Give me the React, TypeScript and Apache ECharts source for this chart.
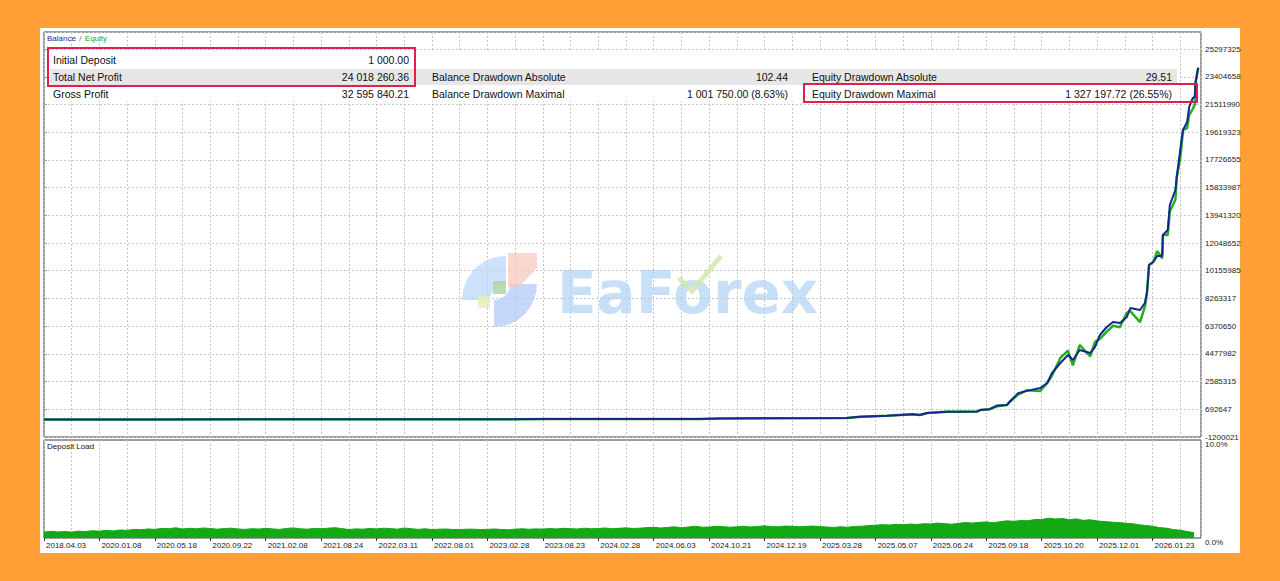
import React, { useEffect, useRef } from "react";
import * as echarts from "echarts";

// ---------- axis tick labels ----------
const xTickLabels = [
  "2018.04.03", "2020.01.08", "2020.05.18", "2020.09.22", "2021.02.08", "2021.08.24",
  "2022.03.11", "2022.08.01", "2023.02.28", "2023.08.23", "2024.02.28", "2024.06.03",
  "2024.10.21", "2024.12.19", "2025.03.28", "2025.05.07", "2025.06.24", "2025.09.18",
  "2025.10.20", "2025.12.01", "2026.01.23",
];
const yTickLabels = [
  "-1200021", "692647", "2585315", "4477982", "6370650", "8263317", "10155985",
  "12048652", "13941320", "15833987", "17726655", "19619323", "21511990", "23404658", "25297325",
];
const yMin = -1200021;
const yStep = 1892667.57;
const yMax = 26463208;
const dealMax = 1670;

// ---------- balance / equity (x = deal number) ----------
const deals = [
  0, 153, 297, 442, 586, 730, 875, 947, 976, 1159, 1178, 1217, 1254, 1264, 1275, 1303,
  1322, 1347, 1351, 1365, 1376, 1390, 1394, 1406, 1419, 1438, 1448, 1455, 1467, 1478,
  1485, 1495, 1510, 1517, 1524, 1534, 1543, 1553, 1563, 1568, 1582, 1589, 1592, 1595,
  1601, 1607, 1614, 1615, 1622, 1625, 1633, 1635, 1640, 1644, 1650, 1653, 1658, 1661,
  1662, 1666,
];
const balance = [
  1000, 2500, 5000, 8500, 14000, 21000, 30000, 36000, 62000, 98000, 186000, 255000, 350000,
  300000, 439000, 528000, 520000, 540000, 644000, 700000, 960000, 990000, 1211000, 1785000,
  1950000, 2147000, 2488000, 3171000, 3854000, 4401000, 4059000, 4742000, 4537000, 4947000,
  5767000, 6313000, 6655000, 6586000, 6996000, 7611000, 7474000, 7952000, 8635000, 10548000,
  10753000, 11163000, 11163000, 12597000, 12939000, 14646000, 15671000, 16559000, 18403000,
  19769000, 20315000, 21340000, 21954000, 22023000, 22979000, 24019260,
];
const equity = [
  1000, 2500, 5000, 8500, 14000, 21000, 30000, 36000, 62000, 98000, 186000, 255000, 350000,
  300000, 439000, 528000, 520000, 540000, 644000, 700000, 900000, 990000, 1211000, 1700000,
  2000000, 1950000, 2488000, 3000000, 4200000, 4700000, 3700000, 5083000, 4300000, 5300000,
  5500000, 6000000, 6400000, 6300000, 7300000, 7400000, 6650000, 7700000, 8635000, 10548000,
  10753000, 11500000, 11000000, 12597000, 12600000, 14200000, 15000000, 16559000, 17800000,
  19769000, 19900000, 20800000, 21200000, 21500000, 22979000, 24019260,
];

// ---------- deposit load (%), one value every 10 deals ----------
const loadStep = 10;
const depositLoad = [
  0.6, 0.68, 0.62, 0.66, 0.6, 0.7, 0.66, 0.74, 0.7, 0.78, 0.72, 0.82, 0.78, 0.88, 0.84, 0.92,
  0.88, 0.98, 0.95, 1.04, 0.92, 0.99, 0.94, 1.02, 0.97, 0.9, 0.96, 1.0, 0.92, 0.88, 0.95, 0.91,
  0.99, 0.93, 0.88, 0.97, 1.03, 0.94, 0.9, 0.98, 0.94, 1.0, 1.05, 0.96, 0.86, 0.93, 0.9, 0.97,
  0.93, 1.0, 0.96, 0.9, 1.02, 0.95, 0.88, 0.94, 0.86, 0.9, 0.92, 0.87, 0.85, 0.9, 0.9, 0.86,
  0.88, 0.92, 0.87, 0.84, 0.9, 0.94, 0.89, 0.93, 0.91, 0.96, 0.93, 0.99, 0.95, 0.92, 1.0, 0.94,
  0.97, 1.02, 0.95, 0.99, 1.04, 0.97, 1.0, 1.06, 1.1, 1.02, 1.08, 1.14, 1.05, 1.12, 1.2, 1.1,
  1.12, 1.18, 1.16, 1.1, 1.14, 1.2, 1.12, 1.18, 1.24, 1.16, 1.15, 1.22, 1.2, 1.14, 1.18, 1.22,
  1.16, 1.12, 1.08, 1.14, 1.1, 1.18, 1.2, 1.26, 1.3, 1.36, 1.32, 1.4, 1.36, 1.42, 1.38, 1.46,
  1.44, 1.52, 1.47, 1.4, 1.5, 1.58, 1.52, 1.6, 1.64, 1.56, 1.66, 1.75, 1.7, 1.78, 1.76, 1.88,
  1.9, 2.02, 1.94, 1.98, 1.88, 1.95, 1.8, 1.86, 1.74, 1.68, 1.62, 1.58, 1.52, 1.47, 1.36, 1.28,
  1.2, 1.06, 1.0, 0.86, 0.8, 0.66, 0.55,
];

// ---------- report table ----------
const col1Labels = ["Initial Deposit", "Total Net Profit", "Gross Profit"];
const col1Values = ["1 000.00", "24 018 260.36", "32 595 840.21"];
const col2Labels = ["Balance Drawdown Absolute", "Balance Drawdown Maximal"];
const col2Values = ["102.44", "1 001 750.00 (8.63%)"];
const col3Labels = ["Equity Drawdown Absolute", "Equity Drawdown Maximal"];
const col3Values = ["29.51", "1 327 197.72 (26.55%)"];

const FONT = "Liberation Sans";

export default function App() {
  const ref = useRef<HTMLDivElement>(null);

  useEffect(() => {
    if (!ref.current) return;
    const chart = echarts.init(ref.current, null, { renderer: "svg" });

    const rowY = [60, 77, 93.5];
    const txt = (text: string, x: number, y: number, align = "left") => ({
      type: "text",
      z: 21,
      style: {
        text, x, y, fill: "#111", fontSize: 10.5, fontFamily: FONT,
        align, verticalAlign: "middle",
      },
    });
    const tableEls: any[] = [
      { type: "rect", z: 20, shape: { x: 50, y: 52, width: 1130, height: 49 }, style: { fill: "#ffffff" } },
      { type: "rect", z: 20, shape: { x: 50, y: 69, width: 1127, height: 16 }, style: { fill: "#e6e6e6" } },
    ];
    col1Labels.forEach((l, i) => {
      tableEls.push(txt(l, 53, rowY[i]));
      tableEls.push(txt(col1Values[i], 409, rowY[i], "right"));
    });
    col2Labels.forEach((l, i) => {
      tableEls.push(txt(l, 432, rowY[i + 1]));
      tableEls.push(txt(col2Values[i], 788, rowY[i + 1], "right"));
    });
    col3Labels.forEach((l, i) => {
      tableEls.push(txt(l, 812, rowY[i + 1]));
      tableEls.push(txt(col3Values[i], 1172, rowY[i + 1], "right"));
    });
    tableEls.push({
      type: "rect", z: 22, shape: { x: 48, y: 48, width: 367, height: 38 },
      style: { fill: "none", stroke: "#e01e50", lineWidth: 2 },
    });
    tableEls.push({
      type: "rect", z: 22, shape: { x: 804, y: 84, width: 393, height: 18 },
      style: { fill: "none", stroke: "#e01e50", lineWidth: 2 },
    });

    const watermark: any[] = [
      {
        type: "sector", z: 15,
        shape: { cx: 506, cy: 300, r0: 16, r: 44, startAngle: Math.PI, endAngle: Math.PI * 1.5 },
        style: { fill: "#b8d4f8", opacity: 0.7 },
      },
      {
        type: "sector", z: 15,
        shape: { cx: 494, cy: 284, r0: 16, r: 43, startAngle: 0, endAngle: Math.PI * 0.5 },
        style: { fill: "#aec8f6", opacity: 0.7 },
      },
      {
        type: "polygon", z: 15,
        shape: { points: [[508, 253], [537, 253], [537, 268], [519, 287], [508, 287]] },
        style: { fill: "#f8c4bd", opacity: 0.7 },
      },
      {
        type: "rect", z: 16, shape: { x: 493, y: 281, width: 13, height: 13 },
        style: { fill: "#b0d3a8", opacity: 0.85 },
      },
      {
        type: "rect", z: 16, shape: { x: 478, y: 296, width: 12, height: 12 },
        style: { fill: "#e4f0b8", opacity: 0.85 },
      },
      {
        type: "text", z: 15,
        style: {
          text: "EaForex", x: 557, y: 293, fontSize: 58, fontWeight: "bold", fontFamily: "DejaVu Sans",
          verticalAlign: "middle", fill: "#a9cff5", opacity: 0.65,
        },
      },
      {
        type: "polyline", z: 16,
        shape: { points: [[679, 278], [692, 291], [721, 256]] },
        style: { stroke: "#d3e8ad", lineWidth: 5, fill: "none", opacity: 0.85 },
      },
    ];

    const labelsTop: any = {
      type: "text", z: 21,
      style: {
        x: 47, y: 38, verticalAlign: "middle",
        text: "{b|Balance} {s|/} {e|Equity}",
        rich: {
          b: { fill: "#1c2a9a", fontSize: 8, fontFamily: FONT },
          s: { fill: "#666", fontSize: 8, fontFamily: FONT },
          e: { fill: "#2aa02a", fontSize: 8, fontFamily: FONT },
        },
      },
    };
    const depositTitle: any = {
      type: "text", z: 21,
      style: { x: 47, y: 446, text: "Deposit Load", fill: "#111", fontSize: 8, fontFamily: FONT, verticalAlign: "middle" },
    };

    const gridLine = { show: true, lineStyle: { color: "#c6c6c6", type: [2, 2], width: 1 } };
    const axisLabelStyle = { color: "#222", fontSize: 8, fontFamily: FONT };

    chart.setOption({
      animation: false,
      backgroundColor: "transparent",
      grid: [
        { left: 44, top: 32, width: 1157, height: 405, show: true, borderColor: "#3c3c3c", borderWidth: 1, backgroundColor: "transparent" },
        { left: 44, top: 440, width: 1157, height: 98, show: true, borderColor: "#3c3c3c", borderWidth: 1, backgroundColor: "transparent" },
      ],
      xAxis: [
        {
          type: "value", gridIndex: 0, min: 0, max: dealMax, interval: 40,
          axisLine: { show: false }, axisTick: { show: false }, axisLabel: { show: false },
          splitLine: gridLine,
        },
        {
          type: "value", gridIndex: 1, min: 0, max: dealMax, interval: 40,
          axisLine: { show: false }, axisTick: { show: false }, axisLabel: { show: false },
          splitLine: gridLine,
        },
        {
          type: "value", gridIndex: 1, min: 0, max: dealMax, interval: 80, position: "bottom",
          axisLine: { show: false },
          axisTick: { show: true, length: 3, lineStyle: { color: "#333" } },
          splitLine: { show: false },
          axisLabel: {
            ...axisLabelStyle, align: "left", margin: 3, padding: [0, 0, 0, 2],
            showMaxLabel: false, hideOverlap: false,
            formatter: (v: number) => (v % 80 === 0 && v / 80 < xTickLabels.length ? xTickLabels[v / 80] : ""),
          },
        },
      ],
      yAxis: [
        {
          type: "value", gridIndex: 0, position: "right", min: yMin, max: yMax, interval: yStep,
          axisLine: { show: false },
          axisTick: { show: true, length: 3, lineStyle: { color: "#999" } },
          splitLine: gridLine,
          axisLabel: {
            ...axisLabelStyle, margin: 4, showMaxLabel: false,
            formatter: (v: number) => {
              const k = Math.round((v - yMin) / yStep);
              if (k < 0 || k >= yTickLabels.length) return "";
              if (Math.abs(v - (yMin + k * yStep)) > yStep * 0.02) return "";
              return yTickLabels[k];
            },
          },
        },
        {
          type: "value", gridIndex: 1, position: "right", min: 0, max: 10, interval: 10,
          axisLine: { show: false }, axisTick: { show: false }, splitLine: { show: false },
          axisLabel: {
            ...axisLabelStyle, margin: 4, verticalAlign: "top",
            formatter: (v: number) => (v === 10 ? "10.0%" : v === 0 ? "0.0%" : ""),
          },
        },
      ],
      series: [
        {
          name: "Equity", type: "line", xAxisIndex: 0, yAxisIndex: 0, z: 2,
          showSymbol: false, symbol: "none",
          data: deals.map((d, i) => [d, equity[i]]),
          lineStyle: { color: "#22b022", width: 2.5 },
        },
        {
          name: "Balance", type: "line", xAxisIndex: 0, yAxisIndex: 0, z: 3,
          showSymbol: false, symbol: "none",
          data: deals.map((d, i) => [d, balance[i]]),
          lineStyle: { color: "#16278f", width: 2 },
        },
        {
          name: "Deposit Load", type: "line", xAxisIndex: 1, yAxisIndex: 1, z: 2,
          showSymbol: false, symbol: "none",
          data: depositLoad.map((v, i) => [i * loadStep, v]),
          lineStyle: { color: "#14a814", width: 1 },
          areaStyle: { color: "#14a814", opacity: 1 },
        },
      ],
      graphic: [...watermark, ...tableEls, labelsTop, depositTitle],
    });

    return () => chart.dispose();
  }, []);

  return (
    <div style={{ position: "absolute", left: 0, top: 0, width: 1280, height: 581, background: "#ff9f36" }}>
      <div style={{ position: "absolute", left: 40, top: 28, width: 1200, height: 525, background: "#ffffff" }} />
      <div ref={ref} style={{ position: "absolute", left: 0, top: 0, width: 1280, height: 581 }} />
    </div>
  );
}
